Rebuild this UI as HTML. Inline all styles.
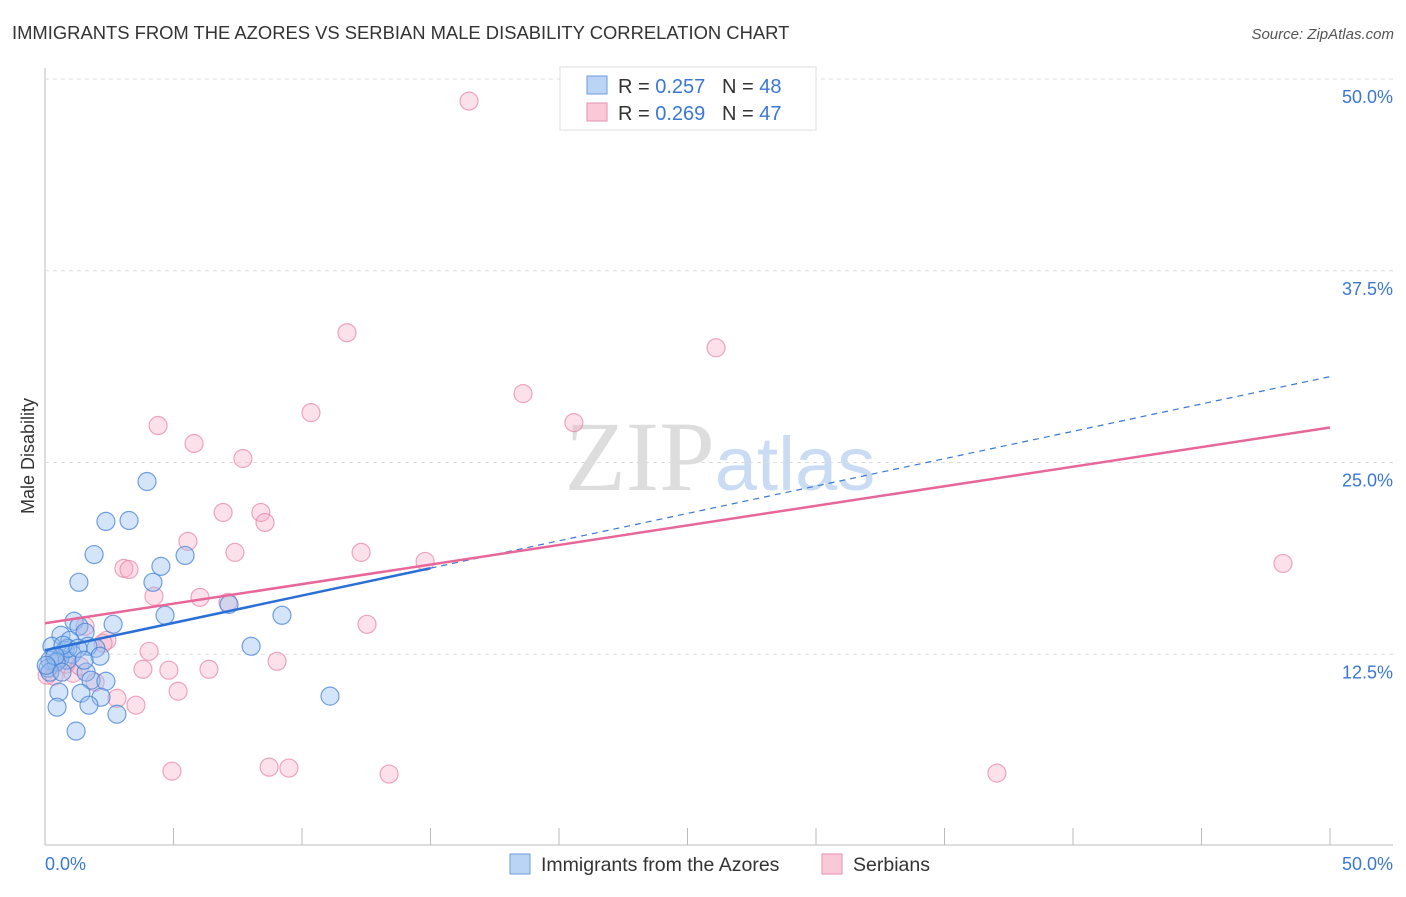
<!DOCTYPE html>
<html><head><meta charset="utf-8"><style>
body{margin:0;background:#fff;font-family:"Liberation Sans",sans-serif}
</style></head><body>
<svg id="chart" width="1406" height="892" xmlns="http://www.w3.org/2000/svg">
<text x="12" y="39" font-size="18.4" fill="#333">IMMIGRANTS FROM THE AZORES VS SERBIAN MALE DISABILITY CORRELATION CHART</text>
<text x="1394" y="39" font-size="15" fill="#555" font-style="italic" text-anchor="end">Source: ZipAtlas.com</text>
<text x="34" y="456" font-size="18" fill="#333" text-anchor="middle" transform="rotate(-90 34 456)">Male Disability</text>
<text x="720" y="490" font-size="100" fill="#ddd" text-anchor="middle" font-family="Liberation Serif,serif">ZIP<tspan fill="#c9dcf3" font-family="Liberation Sans,sans-serif" font-size="76">atlas</tspan></text>
<g id="grid"></g><g id="pts"></g><g id="lines"></g>
<g>
<rect x="560" y="67" width="256" height="63" fill="#fff" stroke="#ddd"/>
<rect x="587" y="76" width="20" height="18" fill="#b9d4f5" stroke="#6c9bdc"/>
<rect x="587" y="103" width="20" height="18" fill="#f9c9d8" stroke="#e88fab"/>
<text x="618" y="93" font-size="20" fill="#333" xml:space="preserve">R = <tspan fill="#3a78d4">0.257</tspan>   N = <tspan fill="#3a78d4">48</tspan></text>
<text x="618" y="120" font-size="20" fill="#333" xml:space="preserve">R = <tspan fill="#3a78d4">0.269</tspan>   N = <tspan fill="#3a78d4">47</tspan></text>
</g>
<g>
<rect x="510" y="854" width="20" height="20" fill="#b9d4f5" stroke="#6c9bdc"/>
<text x="541" y="871" font-size="19.5" fill="#333">Immigrants from the Azores</text>
<rect x="822" y="854" width="20" height="20" fill="#f9c9d8" stroke="#e88fab"/>
<text x="853" y="871" font-size="19.5" fill="#333">Serbians</text>
</g>
</svg>
<script>
const yTicks=[12.5,25,37.5,50];
const yTickLabels=["12.5%","25.0%","37.5%","50.0%"];
const xTickLabels=["0.0%","50.0%"];
const blueX=[3.97,2.37,3.27,1.91,5.45,4.51,1.32,4.20,4.67,9.22,1.13,7.16,2.65,1.32,1.56,0.62,0.97,1.98,1.67,8.02,0.27,0.78,1.05,2.14,0.58,0.19,0.86,0.43,0.12,1.60,0.19,1.79,2.37,0.54,1.40,2.18,11.09,0.47,1.71,2.80,1.21,0.89,0.70,1.28,0.39,0.05,1.52,0.66];
const blueY=[23.76,21.16,21.22,19.0,18.94,18.23,17.19,17.19,15.04,15.04,14.65,15.75,14.45,14.32,13.93,13.74,13.41,12.89,13.02,13.02,13.02,12.76,12.50,12.37,12.24,12.11,12.11,11.98,11.59,11.33,11.33,10.81,10.74,10.03,9.96,9.70,9.77,9.05,9.18,8.59,7.49,12.89,13.09,12.89,12.37,11.78,12.11,11.33];
const pinkX=[16.50,11.75,26.11,18.60,20.58,4.40,5.80,7.70,10.35,6.93,8.40,8.56,5.56,7.39,12.30,14.79,48.17,3.07,3.27,4.24,6.03,7.12,12.53,1.56,2.41,2.26,4.05,9.03,6.38,4.82,3.81,0.82,0.51,0.08,0.35,1.09,1.95,5.18,2.80,3.54,4.94,8.72,9.49,13.39,37.04,0.35,1.36];
const pinkY=[48.56,33.46,32.48,29.49,27.60,27.41,26.24,25.26,28.25,21.74,21.74,21.09,19.86,19.14,19.14,18.55,18.42,18.10,18.03,16.28,16.21,15.88,14.45,14.32,13.41,13.22,12.69,12.04,11.52,11.46,11.52,11.85,12.11,11.13,11.07,11.26,10.68,10.09,9.63,9.18,4.88,5.14,5.08,4.69,4.75,11.91,11.72];
const blueTrend=[12.76,30.6];
const pinkTrend=[14.52,27.28];
const blueSolidEnd=15;
const NS="http://www.w3.org/2000/svg";
const X0=45,X1=1330,Y0=846,Y50=79;
const sx=v=>X0+(v/50)*(X1-X0);
const sy=v=>Y0-(v/50)*(Y0-Y50);
function mk(t,a,p){const e=document.createElementNS(NS,t);for(const k in a)e.setAttribute(k,a[k]);p.appendChild(e);return e;}
const grid=document.getElementById('grid'),pts=document.getElementById('pts'),lines=document.getElementById('lines');
let ax=mk('line',{x1:45,y1:68,x2:45,y2:845,stroke:'#bbb'},grid);


let bx=mk('line',{x1:45,y1:845,x2:1393,y2:845,stroke:'#bbb'},grid);


yTicks.forEach((t,i)=>{
 const g=mk('line',{x1:45,x2:1393,y1:sy(t),y2:sy(t),stroke:'#ddd','stroke-dasharray':'4,4'},grid);
 
 
 const l=mk('text',{x:1393,y:sy(t)+24,'font-size':18,fill:'#3a78d4','text-anchor':'end'},grid);
 l.textContent=yTickLabels[i];
 
 
});
for(let i=0;i<=10;i++){
 const x=sx(i*5);
 const t=mk('line',{x1:x,x2:x,y1:828,y2:845,stroke:'#bbb'},grid);
 
 
}
[[0,'start',45],[50,'end',1393]].forEach((d,i)=>{
 const l=mk('text',{x:d[2],y:870,'font-size':18,fill:'#3a78d4','text-anchor':d[1]},grid);
 l.textContent=xTickLabels[i];
 
 
});
pinkX.forEach((x,i)=>{
 const c=mk('circle',{cx:sx(x),cy:sy(pinkY[i]),r:9,fill:'rgba(246,170,195,0.35)',stroke:'rgba(232,130,165,0.7)','stroke-width':1.2},pts);
 
 
});
blueX.forEach((x,i)=>{
 const c=mk('circle',{cx:sx(x),cy:sy(blueY[i]),r:9,fill:'rgba(150,190,240,0.4)',stroke:'rgba(70,130,215,0.75)','stroke-width':1.2},pts);
 
 
});
const bAt=v=>blueTrend[0]+(blueTrend[1]-blueTrend[0])*v/50;
let bd=mk('line',{x1:sx(blueSolidEnd),y1:sy(bAt(blueSolidEnd)),x2:sx(50),y2:sy(blueTrend[1]),stroke:'#3a78d4','stroke-width':1.2,'stroke-dasharray':'6,5'},lines);


let pl=mk('line',{x1:sx(0),y1:sy(pinkTrend[0]),x2:sx(50),y2:sy(pinkTrend[1]),stroke:'#e8679a','stroke-width':2.5},lines);


let bl=mk('line',{x1:sx(0),y1:sy(blueTrend[0]),x2:sx(blueSolidEnd),y2:sy(bAt(blueSolidEnd)),stroke:'#2a6fd6','stroke-width':2.5},lines);


</script>
</body></html>
